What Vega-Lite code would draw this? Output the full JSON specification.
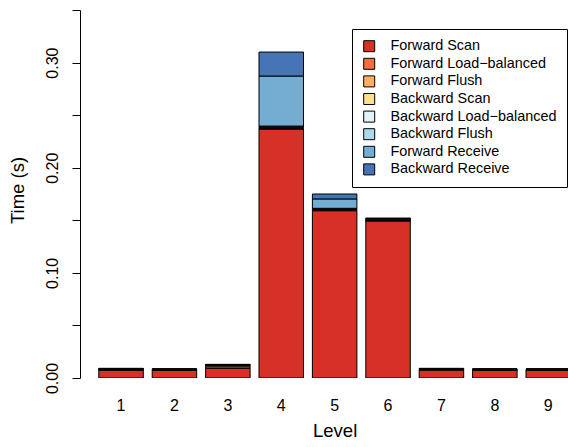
{
  "$schema": "https://vega.github.io/schema/vega-lite/v6.json",
  "autosize": {"type": "none"},
  "padding": {"left": 80, "top": 10, "right": 0, "bottom": 69},
  "width": 488,
  "height": 368,
  "config": {
    "font": "Liberation Sans",
    "view": {"stroke": null},
    "axis": {"labelColor": "#000", "titleColor": "#000", "titleFontWeight": "normal", "grid": false}
  },
  "data": {
    "values": [
      {"level": "1", "part": "Forward Scan", "rank": 1, "time": 0.0075},
      {"level": "1", "part": "Forward Load−balanced", "rank": 2, "time": 0.0003},
      {"level": "1", "part": "Forward Flush", "rank": 3, "time": 0.0003},
      {"level": "1", "part": "Backward Scan", "rank": 4, "time": 0.0002},
      {"level": "1", "part": "Backward Load−balanced", "rank": 5, "time": 0.0002},
      {"level": "1", "part": "Backward Flush", "rank": 6, "time": 0.0003},
      {"level": "1", "part": "Forward Receive", "rank": 7, "time": 0.0002},
      {"level": "1", "part": "Backward Receive", "rank": 8, "time": 0.0002},
      {"level": "2", "part": "Forward Scan", "rank": 1, "time": 0.0074},
      {"level": "2", "part": "Forward Load−balanced", "rank": 2, "time": 0.0002},
      {"level": "2", "part": "Forward Flush", "rank": 3, "time": 0.0002},
      {"level": "2", "part": "Backward Scan", "rank": 4, "time": 0.0002},
      {"level": "2", "part": "Backward Load−balanced", "rank": 5, "time": 0.0002},
      {"level": "2", "part": "Backward Flush", "rank": 6, "time": 0.0002},
      {"level": "2", "part": "Forward Receive", "rank": 7, "time": 0.0001},
      {"level": "2", "part": "Backward Receive", "rank": 8, "time": 0.0001},
      {"level": "3", "part": "Forward Scan", "rank": 1, "time": 0.0092},
      {"level": "3", "part": "Forward Load−balanced", "rank": 2, "time": 0.0015},
      {"level": "3", "part": "Forward Flush", "rank": 3, "time": 0.0012},
      {"level": "3", "part": "Backward Scan", "rank": 4, "time": 0.0003},
      {"level": "3", "part": "Backward Load−balanced", "rank": 5, "time": 0.0002},
      {"level": "3", "part": "Backward Flush", "rank": 6, "time": 0.0002},
      {"level": "3", "part": "Forward Receive", "rank": 7, "time": 0.0002},
      {"level": "3", "part": "Backward Receive", "rank": 8, "time": 0.0002},
      {"level": "4", "part": "Forward Scan", "rank": 1, "time": 0.2368},
      {"level": "4", "part": "Forward Load−balanced", "rank": 2, "time": 0.0006},
      {"level": "4", "part": "Forward Flush", "rank": 3, "time": 0.0006},
      {"level": "4", "part": "Backward Scan", "rank": 4, "time": 0.0005},
      {"level": "4", "part": "Backward Load−balanced", "rank": 5, "time": 0.0005},
      {"level": "4", "part": "Backward Flush", "rank": 6, "time": 0.0006},
      {"level": "4", "part": "Forward Receive", "rank": 7, "time": 0.0476},
      {"level": "4", "part": "Backward Receive", "rank": 8, "time": 0.0228},
      {"level": "5", "part": "Forward Scan", "rank": 1, "time": 0.1591},
      {"level": "5", "part": "Forward Load−balanced", "rank": 2, "time": 0.0005},
      {"level": "5", "part": "Forward Flush", "rank": 3, "time": 0.0005},
      {"level": "5", "part": "Backward Scan", "rank": 4, "time": 0.0004},
      {"level": "5", "part": "Backward Load−balanced", "rank": 5, "time": 0.0004},
      {"level": "5", "part": "Backward Flush", "rank": 6, "time": 0.0005},
      {"level": "5", "part": "Forward Receive", "rank": 7, "time": 0.0089},
      {"level": "5", "part": "Backward Receive", "rank": 8, "time": 0.0047},
      {"level": "6", "part": "Forward Scan", "rank": 1, "time": 0.1493},
      {"level": "6", "part": "Forward Load−balanced", "rank": 2, "time": 0.0005},
      {"level": "6", "part": "Forward Flush", "rank": 3, "time": 0.0005},
      {"level": "6", "part": "Backward Scan", "rank": 4, "time": 0.0004},
      {"level": "6", "part": "Backward Load−balanced", "rank": 5, "time": 0.0004},
      {"level": "6", "part": "Backward Flush", "rank": 6, "time": 0.0004},
      {"level": "6", "part": "Forward Receive", "rank": 7, "time": 0.0003},
      {"level": "6", "part": "Backward Receive", "rank": 8, "time": 0.0002},
      {"level": "7", "part": "Forward Scan", "rank": 1, "time": 0.0076},
      {"level": "7", "part": "Forward Load−balanced", "rank": 2, "time": 0.0003},
      {"level": "7", "part": "Forward Flush", "rank": 3, "time": 0.0003},
      {"level": "7", "part": "Backward Scan", "rank": 4, "time": 0.0002},
      {"level": "7", "part": "Backward Load−balanced", "rank": 5, "time": 0.0002},
      {"level": "7", "part": "Backward Flush", "rank": 6, "time": 0.0002},
      {"level": "7", "part": "Forward Receive", "rank": 7, "time": 0.0002},
      {"level": "7", "part": "Backward Receive", "rank": 8, "time": 0.0002},
      {"level": "8", "part": "Forward Scan", "rank": 1, "time": 0.0074},
      {"level": "8", "part": "Forward Load−balanced", "rank": 2, "time": 0.0002},
      {"level": "8", "part": "Forward Flush", "rank": 3, "time": 0.0002},
      {"level": "8", "part": "Backward Scan", "rank": 4, "time": 0.0002},
      {"level": "8", "part": "Backward Load−balanced", "rank": 5, "time": 0.0002},
      {"level": "8", "part": "Backward Flush", "rank": 6, "time": 0.0002},
      {"level": "8", "part": "Forward Receive", "rank": 7, "time": 0.0001},
      {"level": "8", "part": "Backward Receive", "rank": 8, "time": 0.0001},
      {"level": "9", "part": "Forward Scan", "rank": 1, "time": 0.0074},
      {"level": "9", "part": "Forward Load−balanced", "rank": 2, "time": 0.0002},
      {"level": "9", "part": "Forward Flush", "rank": 3, "time": 0.0002},
      {"level": "9", "part": "Backward Scan", "rank": 4, "time": 0.0002},
      {"level": "9", "part": "Backward Load−balanced", "rank": 5, "time": 0.0002},
      {"level": "9", "part": "Backward Flush", "rank": 6, "time": 0.0002},
      {"level": "9", "part": "Forward Receive", "rank": 7, "time": 0.0001},
      {"level": "9", "part": "Backward Receive", "rank": 8, "time": 0.0001}
    ]
  },
  "mark": {"type": "bar", "stroke": "#000", "strokeWidth": 1, "clip": true},
  "encoding": {
    "x": {
      "field": "level",
      "type": "ordinal",
      "scale": {"type": "band", "range": [0, 509.3], "paddingInner": 0.16667, "paddingOuter": 0.352},
      "axis": {
        "title": "Level",
        "labelAngle": 0,
        "domain": false,
        "ticks": false,
        "tickSize": 0,
        "labelPadding": 32,
        "labelBaseline": "alphabetic",
        "labelFontSize": 16,
        "titleFontSize": 18.5,
        "titleBaseline": "alphabetic",
        "titleY": 58
      }
    },
    "y": {
      "field": "time",
      "type": "quantitative",
      "stack": "zero",
      "scale": {"domain": [0, 0.35], "nice": false, "zero": true},
      "axis": {
        "title": "Time (s)",
        "values": [0, 0.05, 0.1, 0.15, 0.2, 0.25, 0.3, 0.35],
        "labelExpr": "(round(datum.value * 100) % 10 == 0) ? format(datum.value, '.2f') : ''",
        "labelAngle": -90,
        "labelAlign": "center",
        "labelBaseline": "alphabetic",
        "labelPadding": 15,
        "labelFontSize": 16,
        "tickSize": 8,
        "tickColor": "#000",
        "domainColor": "#000",
        "labelOverlap": false,
        "titleFontSize": 18.5,
        "titleAngle": -90,
        "titleAlign": "center",
        "titleBaseline": "alphabetic",
        "titleX": -57,
        "titleY": 180
      }
    },
    "color": {
      "field": "part",
      "type": "nominal",
      "scale": {
        "domain": ["Forward Scan", "Forward Load−balanced", "Forward Flush", "Backward Scan", "Backward Load−balanced", "Backward Flush", "Forward Receive", "Backward Receive"],
        "range": ["#d73027", "#f46d43", "#fdae61", "#fee090", "#e0f3f8", "#abd9e9", "#74add1", "#4575b4"]
      },
      "legend": {
        "title": null,
        "orient": "none",
        "legendX": 272,
        "legendY": 19,
        "strokeColor": "#000",
        "fillColor": "#fff",
        "padding": 10,
        "symbolType": "square",
        "symbolSize": 121,
        "symbolStrokeColor": "#000",
        "symbolStrokeWidth": 1,
        "symbolOpacity": 1,
        "labelFontSize": 14.4,
        "labelColor": "#000",
        "labelOffset": 14,
        "rowPadding": 1.6,
        "labelLimit": 300
      }
    },
    "order": {"field": "rank", "type": "quantitative", "sort": "ascending"}
  }
}
